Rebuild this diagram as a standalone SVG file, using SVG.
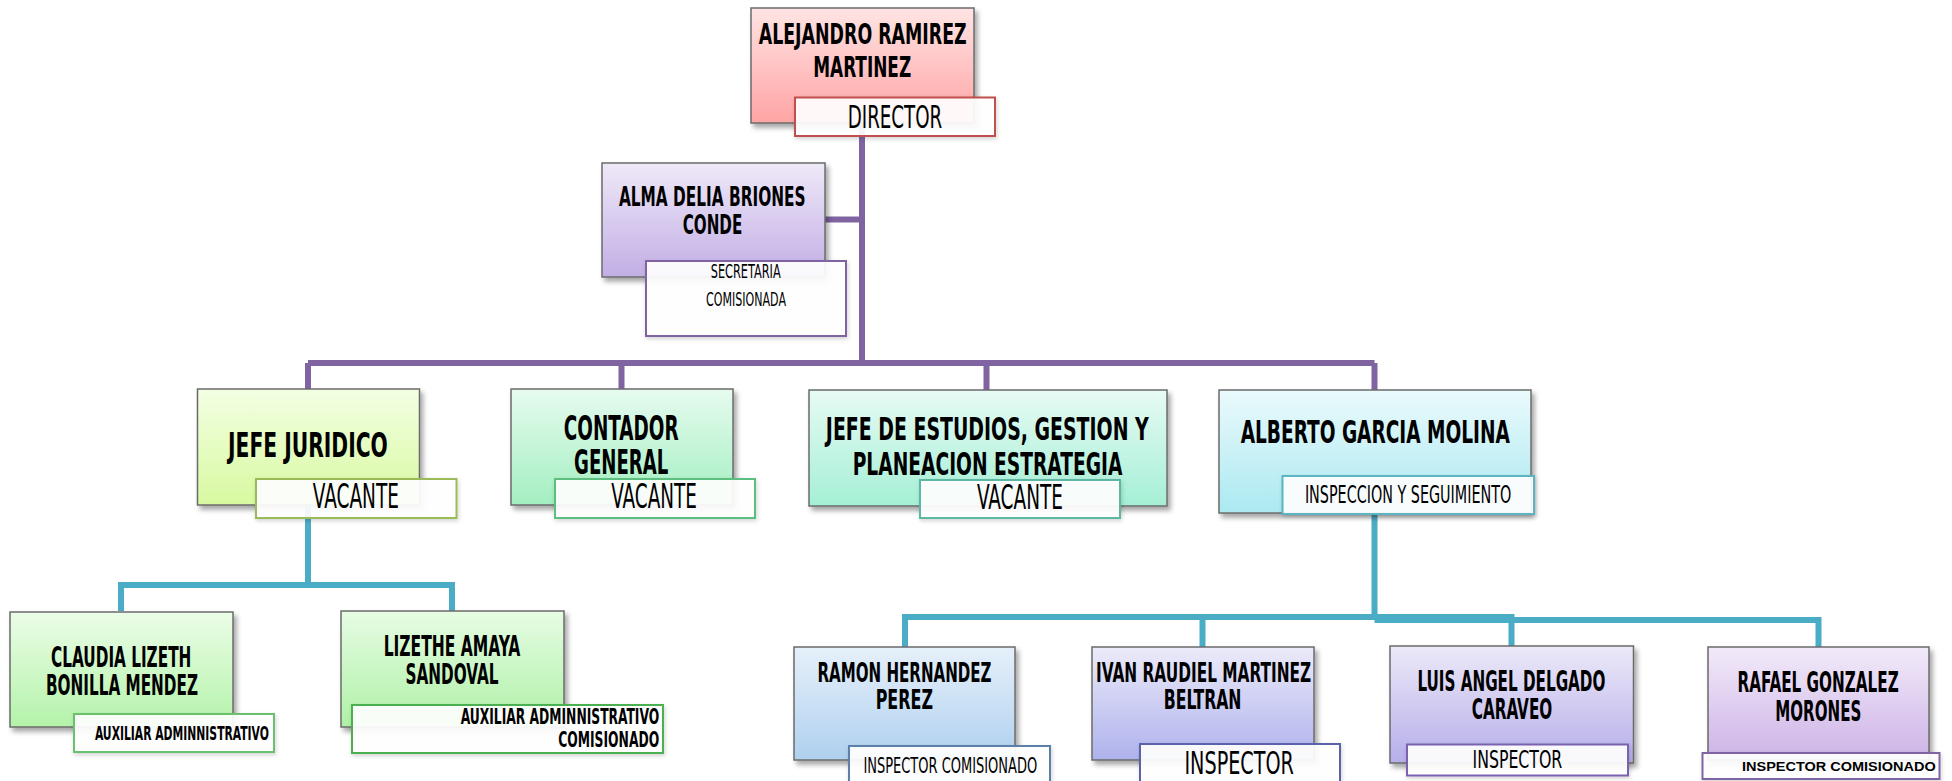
<svg xmlns="http://www.w3.org/2000/svg" width="1952" height="781" viewBox="0 0 1952 781">
<style>
.box{stroke:#6b6b6b;stroke-width:1.5;filter:url(#sh)}
.lbl{fill:#ffffff;fill-opacity:0.92;stroke-width:2;filter:url(#sh2)}
.nm{font-family:"DejaVu Sans","Liberation Sans",sans-serif;font-weight:bold;font-stretch:condensed;fill:#000;text-anchor:middle}
.rt{font-family:"DejaVu Sans","Liberation Sans",sans-serif;font-weight:normal;font-stretch:condensed;fill:#000;text-anchor:middle}
.rb{font-family:"DejaVu Sans","Liberation Sans",sans-serif;font-weight:bold;font-stretch:condensed;fill:#000;text-anchor:end}
.cal{font-family:"Liberation Sans","Open Sans",sans-serif;font-weight:bold;fill:#000}
.pu{stroke:#8064a2;stroke-width:6;fill:none}
.bl{stroke:#4bacc6;stroke-width:6;fill:none}
</style>
<defs>
<filter id="sh" x="-10%" y="-10%" width="125%" height="130%"><feDropShadow dx="3" dy="4" stdDeviation="2.5" flood-color="#000" flood-opacity="0.35"/></filter>
<filter id="sh2" x="-10%" y="-20%" width="125%" height="150%"><feDropShadow dx="1" dy="2" stdDeviation="2" flood-color="#000" flood-opacity="0.18"/></filter>
<linearGradient id="gDir" x1="0" y1="0" x2="0" y2="1"><stop offset="0" stop-color="#ffe4e4"/><stop offset="1" stop-color="#ffa4a4"/></linearGradient>
<linearGradient id="gAlma" x1="0" y1="0" x2="0" y2="1"><stop offset="0" stop-color="#efe9f8"/><stop offset="1" stop-color="#c2aee5"/></linearGradient>
<linearGradient id="gJur" x1="0" y1="0" x2="0" y2="1"><stop offset="0" stop-color="#f3ffe3"/><stop offset="1" stop-color="#d8f9a0"/></linearGradient>
<linearGradient id="gCon" x1="0" y1="0" x2="0" y2="1"><stop offset="0" stop-color="#e6fbef"/><stop offset="1" stop-color="#a3efc1"/></linearGradient>
<linearGradient id="gEst" x1="0" y1="0" x2="0" y2="1"><stop offset="0" stop-color="#e7fbf4"/><stop offset="1" stop-color="#a5efd5"/></linearGradient>
<linearGradient id="gAlb" x1="0" y1="0" x2="0" y2="1"><stop offset="0" stop-color="#eafafc"/><stop offset="1" stop-color="#abe9f1"/></linearGradient>
<linearGradient id="gCla" x1="0" y1="0" x2="0" y2="1"><stop offset="0" stop-color="#ebfde7"/><stop offset="1" stop-color="#b4f3aa"/></linearGradient>
<linearGradient id="gLiz" x1="0" y1="0" x2="0" y2="1"><stop offset="0" stop-color="#e6fce4"/><stop offset="1" stop-color="#aff1a6"/></linearGradient>
<linearGradient id="gRam" x1="0" y1="0" x2="0" y2="1"><stop offset="0" stop-color="#e6f0fa"/><stop offset="1" stop-color="#afd0ef"/></linearGradient>
<linearGradient id="gIva" x1="0" y1="0" x2="0" y2="1"><stop offset="0" stop-color="#ecebfa"/><stop offset="1" stop-color="#aeb2ec"/></linearGradient>
<linearGradient id="gLui" x1="0" y1="0" x2="0" y2="1"><stop offset="0" stop-color="#ece9f8"/><stop offset="1" stop-color="#b6aeea"/></linearGradient>
<linearGradient id="gRaf" x1="0" y1="0" x2="0" y2="1"><stop offset="0" stop-color="#f2eaf9"/><stop offset="1" stop-color="#cdb3e6"/></linearGradient>
</defs>
<rect width="1952" height="781" fill="#ffffff"/>
<g id="connectors">
<path class="pu" d="M862 123 V363 M825 219.5 H862 M308 363 H1374.5 M308 363 V390 M621.5 363 V390 M986.5 363 V390 M1374.5 363 V390"/>
<path class="bl" d="M308 505 V585 M121 611 V585 H452 V611"/>
<path class="bl" d="M1374.5 512 V617 M905 647 V617 H1511.5 V646 M1374.5 620 H1818.5 V647 M1202.5 617 V647"/>
</g>
<g id="n-director">
<rect class="box" x="751" y="8" width="223" height="115" fill="url(#gDir)"/>
<text class="nm" x="862.7" y="44.3" font-size="29" textLength="208" lengthAdjust="spacingAndGlyphs">ALEJANDRO RAMIREZ</text>
<text class="nm" x="862.2" y="76.7" font-size="29" textLength="98" lengthAdjust="spacingAndGlyphs">MARTINEZ</text>
<rect class="lbl" x="795" y="97.5" width="200" height="38.5" stroke="#c0504d"/>
<text class="rt" x="895" y="127.7" font-size="32.5" textLength="94.6" lengthAdjust="spacingAndGlyphs">DIRECTOR</text>
</g>
<g id="n-alma">
<rect class="box" x="602" y="163" width="223" height="114" fill="url(#gAlma)"/>
<text class="nm" x="712.3" y="205.7" font-size="27" textLength="186.7" lengthAdjust="spacingAndGlyphs">ALMA DELIA BRIONES</text>
<text class="nm" x="712.5" y="234.3" font-size="27" textLength="59.6" lengthAdjust="spacingAndGlyphs">CONDE</text>
<rect class="lbl" x="646" y="261" width="200" height="75" stroke="#8064a2"/>
<text class="rt" x="745.7" y="277.7" font-size="19" textLength="70" lengthAdjust="spacingAndGlyphs">SECRETARIA</text>
<text class="rt" x="746" y="305.7" font-size="19" textLength="80" lengthAdjust="spacingAndGlyphs">COMISIONADA</text>
</g>
<g id="n-juridico">
<rect class="box" x="197.5" y="389" width="222" height="116" fill="url(#gJur)"/>
<text class="nm" x="307.9" y="456.7" font-size="33" textLength="159.8" lengthAdjust="spacingAndGlyphs">JEFE JURIDICO</text>
<rect class="lbl" x="256" y="479" width="200.5" height="39" stroke="#9bbb59"/>
<text class="rt" x="355.9" y="508.3" font-size="33" textLength="86.2" lengthAdjust="spacingAndGlyphs">VACANTE</text>
</g>
<g id="n-contador">
<rect class="box" x="511" y="389" width="222" height="116" fill="url(#gCon)"/>
<text class="nm" x="621.2" y="440" font-size="33" textLength="114.8" lengthAdjust="spacingAndGlyphs">CONTADOR</text>
<text class="nm" x="621.2" y="474.3" font-size="33" textLength="94.4" lengthAdjust="spacingAndGlyphs">GENERAL</text>
<rect class="lbl" x="555" y="479" width="200" height="39" stroke="#5cbf80"/>
<text class="rt" x="654.1" y="508.3" font-size="33" textLength="85.8" lengthAdjust="spacingAndGlyphs">VACANTE</text>
</g>
<g id="n-estudios">
<rect class="box" x="809" y="390" width="358" height="116" fill="url(#gEst)"/>
<text class="nm" x="987.3" y="440" font-size="32" textLength="322.9" lengthAdjust="spacingAndGlyphs">JEFE DE ESTUDIOS, GESTION Y</text>
<text class="nm" x="987.5" y="475" font-size="32" textLength="269.7" lengthAdjust="spacingAndGlyphs">PLANEACION ESTRATEGIA</text>
<rect class="lbl" x="920" y="480" width="200" height="38" stroke="#5bb8a2"/>
<text class="rt" x="1020" y="509.3" font-size="33" textLength="86" lengthAdjust="spacingAndGlyphs">VACANTE</text>
</g>
<g id="n-alberto">
<rect class="box" x="1219" y="390" width="312" height="123" fill="url(#gAlb)"/>
<text class="nm" x="1375.3" y="443.3" font-size="32" textLength="269.2" lengthAdjust="spacingAndGlyphs">ALBERTO GARCIA MOLINA</text>
<rect class="lbl" x="1282.5" y="476" width="251.5" height="38" stroke="#5ab4c2"/>
<text class="rt" x="1408.1" y="503.3" font-size="24" textLength="206.4" lengthAdjust="spacingAndGlyphs">INSPECCION Y SEGUIMIENTO</text>
</g>
<g id="n-claudia">
<rect class="box" x="10" y="612" width="223" height="115" fill="url(#gCla)"/>
<text class="nm" x="121.2" y="667.3" font-size="27.5" textLength="140.3" lengthAdjust="spacingAndGlyphs">CLAUDIA LIZETH</text>
<text class="nm" x="122" y="695" font-size="27.5" textLength="152" lengthAdjust="spacingAndGlyphs">BONILLA MENDEZ</text>
<rect class="lbl" x="74" y="714" width="200" height="38" stroke="#6cc26c"/>
<text class="nm" x="181.9" y="740" font-size="19.5" textLength="174" lengthAdjust="spacingAndGlyphs">AUXILIAR ADMINNISTRATIVO</text>
</g>
<g id="n-lizethe">
<rect class="box" x="341" y="611" width="223" height="116" fill="url(#gLiz)"/>
<text class="nm" x="452" y="656" font-size="28" textLength="136.7" lengthAdjust="spacingAndGlyphs">LIZETHE AMAYA</text>
<text class="nm" x="452" y="684" font-size="28" textLength="92.9" lengthAdjust="spacingAndGlyphs">SANDOVAL</text>
<rect class="lbl" x="352" y="705" width="311" height="48" stroke="#4cb050"/>
<text class="rb" x="659.2" y="724" font-size="21" textLength="198.5" lengthAdjust="spacingAndGlyphs">AUXILIAR ADMINNISTRATIVO</text>
<text class="rb" x="659.2" y="746.7" font-size="21" textLength="101" lengthAdjust="spacingAndGlyphs">COMISIONADO</text>
</g>
<g id="n-ramon">
<rect class="box" x="794" y="647" width="221" height="113" fill="url(#gRam)"/>
<text class="nm" x="904.5" y="681.7" font-size="26" textLength="174.1" lengthAdjust="spacingAndGlyphs">RAMON HERNANDEZ</text>
<text class="nm" x="904.3" y="709.3" font-size="26" textLength="57.3" lengthAdjust="spacingAndGlyphs">PEREZ</text>
<rect class="lbl" x="849" y="746" width="201" height="46" stroke="#5b80aa"/>
<text class="rt" x="950.3" y="772.7" font-size="21" textLength="173.8" lengthAdjust="spacingAndGlyphs">INSPECTOR COMISIONADO</text>
</g>
<g id="n-ivan">
<rect class="box" x="1092" y="647" width="222" height="113" fill="url(#gIva)"/>
<text class="nm" x="1203.6" y="681.7" font-size="26" textLength="215.2" lengthAdjust="spacingAndGlyphs">IVAN RAUDIEL MARTINEZ</text>
<text class="nm" x="1202.6" y="709.3" font-size="26" textLength="77.7" lengthAdjust="spacingAndGlyphs">BELTRAN</text>
<rect class="lbl" x="1140" y="744" width="200" height="48" stroke="#5a62ac"/>
<text class="rt" x="1239.2" y="774" font-size="32" textLength="109.5" lengthAdjust="spacingAndGlyphs">INSPECTOR</text>
</g>
<g id="n-luis">
<rect class="box" x="1390" y="646" width="243.5" height="117" fill="url(#gLui)"/>
<text class="nm" x="1511.4" y="691" font-size="28" textLength="188" lengthAdjust="spacingAndGlyphs">LUIS ANGEL DELGADO</text>
<text class="nm" x="1512" y="719.3" font-size="28" textLength="80.5" lengthAdjust="spacingAndGlyphs">CARAVEO</text>
<rect class="lbl" x="1407" y="744.5" width="221" height="31" stroke="#7a62b0"/>
<text class="rt" x="1517.4" y="768.3" font-size="24" textLength="89.8" lengthAdjust="spacingAndGlyphs">INSPECTOR</text>
</g>
<g id="n-rafael">
<rect class="box" x="1708" y="647" width="221" height="113" fill="url(#gRaf)"/>
<text class="nm" x="1818.1" y="692.3" font-size="27.5" textLength="161.2" lengthAdjust="spacingAndGlyphs">RAFAEL GONZALEZ</text>
<text class="nm" x="1818.3" y="720.7" font-size="27.5" textLength="86" lengthAdjust="spacingAndGlyphs">MORONES</text>
<rect class="lbl" x="1702.5" y="753" width="237" height="26" stroke="#8064a2"/>
<text class="cal" x="1742" y="770.5" font-size="13.5" textLength="193.7" lengthAdjust="spacingAndGlyphs">INSPECTOR COMISIONADO</text>
</g>
</svg>
